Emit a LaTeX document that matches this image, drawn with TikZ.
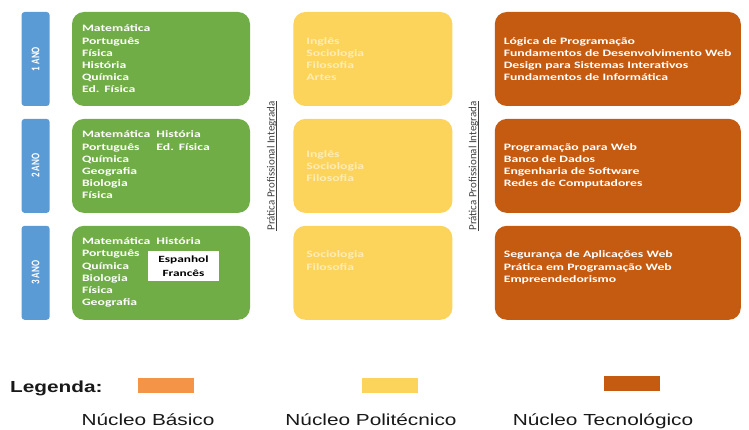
\documentclass[tikz,border=0pt]{standalone}
\usepackage{fontspec}
\usepackage{xcolor}
\usepackage{graphicx}
\usepackage{tikz}
\usetikzlibrary{positioning}
\setmainfont{Carlito}
\newfontfamily\boxfont[FakeStretch=1.4]{Carlito}
\newfontfamily\legfont[FakeStretch=1.3]{Liberation Sans}
\definecolor{verde}{HTML}{70AD47}
\definecolor{amarelo}{HTML}{FCD45C}
\definecolor{laranja}{HTML}{C55A11}
\definecolor{azul}{HTML}{5B9BD5}
\definecolor{laranjaleg}{HTML}{F39447}
\newcommand\sublinha[1]{\setbox0\hbox{#1}\rlap{\rule[-1.6pt]{\wd0}{0.5pt}}\box0}

\begin{document}
\begin{tikzpicture}[x=1pt,y=1pt,node distance=12.5pt,
  anobox/.style={fill=azul,rounded corners=3pt,minimum width=28pt,minimum height=94pt,inner sep=0pt,text=white,font=\fontsize{9}{10}\selectfont\bfseries},
  basico/.style={fill=verde,rounded corners=12pt,minimum height=94pt,text width=158pt,inner xsep=10pt,align=left,text=white,font=\boxfont\bfseries\fontsize{9.8}{12.2}\selectfont},
  politec/.style={fill=amarelo,rounded corners=12pt,minimum height=94pt,text width=133pt,inner xsep=13pt,align=left,text=amarelo!45!white,font=\boxfont\bfseries\fontsize{9.8}{12.2}\selectfont},
  tecno/.style={fill=laranja,rounded corners=12pt,minimum height=94pt,text width=228pt,inner xsep=9pt,align=left,text=white,font=\boxfont\bfseries\fontsize{9.8}{12.2}\selectfont},
  langbox/.style={fill=white,minimum width=71pt,minimum height=30pt,inner sep=0pt,align=center,font=\boxfont\bfseries\fontsize{9.5}{14}\selectfont},
  pratica/.style={inner sep=0pt,text=black!75,font=\fontsize{11}{13}\selectfont},
  swatch/.style={minimum width=56pt,minimum height=15pt,inner sep=0pt},
  legtext/.style={inner sep=0pt,text=black!90,font=\legfont\fontsize{16}{19}\selectfont}]
  \useasboundingbox (0,0) rectangle (749,429);

  % nucleo basico
  \node[basico] (b1) at (161,370) {Matemática\\Português\\Física\\História\\Química\\Ed. Física};
  \node[basico,below=of b1] (b2) {\begin{tabular}{@{}l@{\hspace{6pt}}l@{}}
    Matemática & História\\ Português & Ed. Física\\ Química\\ Geografia\\ Biologia\\ Física
    \end{tabular}};
  \node[basico,below=of b2] (b3) {\begin{tabular}{@{}l@{\hspace{6pt}}l@{}}
    Matemática & História\\ Português\\ Química\\ Biologia\\ Física\\ Geografia
    \end{tabular}};
  \node[langbox,anchor=north west] (lang) at ([shift={(76pt,-25pt)}]b3.north west) {Espanhol\\Francês};

  % anos
  \node[anobox,left=22pt of b1] (ano1) {\rotatebox{90}{\scalebox{1}[1.3]{1 ANO}}};
  \node[anobox,left=22pt of b2] (ano2) {\rotatebox{90}{\scalebox{1}[1.3]{2 ANO}}};
  \node[anobox,left=22pt of b3] (ano3) {\rotatebox{90}{\scalebox{1}[1.3]{3 ANO}}};

  % nucleo politecnico
  \node[politec,right=43pt of b1] (p1) {Inglês\\Sociologia\\Filosofia\\Artes};
  \node[politec,right=43pt of b2] (p2) {Inglês\\Sociologia\\Filosofia};
  \node[politec,right=43pt of b3] (p3) {Sociologia\\Filosofia\\~\\~};

  % nucleo tecnologico
  \node[tecno,right=42pt of p1] (t1) {Lógica de Programação\\Fundamentos de Desenvolvimento Web\\Design para Sistemas Interativos\\Fundamentos de Informática};
  \node[tecno,right=42pt of p2] (t2) {Programação para Web\\Banco de Dados\\Engenharia de Software\\Redes de Computadores};
  \node[tecno,right=42pt of p3] (t3) {Segurança de Aplicações Web\\Prática em Programação Web\\Empreendedorismo\\~};

  \path (b2.east) -- (p2.west) node[midway,pratica] (pp1) {\rotatebox{90}{\sublinha{Prática Profissional Integrada}}};
  \path (p2.east) -- (t2.west) node[midway,pratica] (pp2) {\rotatebox{90}{\sublinha{Prática Profissional Integrada}}};

  % legenda
  \node[legtext,font=\legfont\bfseries\fontsize{16}{19}\selectfont,anchor=base west] (legenda) at (10,37) {Legenda:};
  \node[swatch,fill=laranjaleg] (sw1) at (165.5,44) {};
  \node[swatch,fill=amarelo] (sw2) at (389.5,44) {};
  \node[swatch,fill=laranja] (sw3) at (631.5,46) {};
  \node[legtext,anchor=base] (lb1) at (148,3.5) {Núcleo Básico};
  \node[legtext,anchor=base] (lb2) at (371,3.5) {Núcleo Politécnico};
  \node[legtext,anchor=base] (lb3) at (603,3.5) {Núcleo Tecnológico};
\end{tikzpicture}
\end{document}
